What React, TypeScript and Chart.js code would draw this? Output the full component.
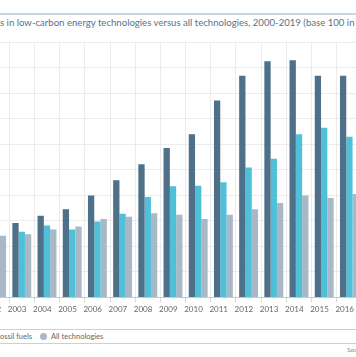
import React, { useEffect, useRef } from "react";
import { Chart, registerables } from "chart.js";

Chart.register(...registerables);

const years = ["2002", "2003", "2004", "2005", "2006", "2007", "2008", "2009", "2010", "2011", "2012", "2013", "2014", "2015", "2016"];
const lowCarbon = [null, 146, 160, 173, 200, 230, 261, 293, 320, 386, 435, 463, 465, 435, 435];
const fossilFuels = [null, 129, 141, 133, 149, 164, 197, 218, 219, 226, 255, 272, 320, 333, 315];
const allTech = [121, 124, 133, 139, 154, 158, 165, 162, 154, 162, 173, 185, 200, 195, 203];
const seriesNames = ["Low-carbon energy technologies", "Fossil fuels", "All technologies"];
const seriesColors = ["#4e7089", "#50c0d8", "#a8b8c6"];
const titleText = "Patents in low-carbon energy technologies versus all technologies, 2000-2019 (base 100 in 2000)";
const sourceText = "Source: EEA";

const FONT = "Lato, 'Open Sans', sans-serif";

export default function App() {
  const ref = useRef<HTMLCanvasElement | null>(null);

  useEffect(() => {
    if (!ref.current) return;
    const chart = new Chart(ref.current, {
      type: "bar",
      data: {
        labels: years,
        datasets: [
          { label: seriesNames[0], data: lowCarbon, backgroundColor: seriesColors[0] },
          { label: seriesNames[1], data: fossilFuels, backgroundColor: seriesColors[1] },
          { label: seriesNames[2], data: allTech, backgroundColor: seriesColors[2] },
        ],
      },
      options: {
        animation: false,
        responsive: false,
        maintainAspectRatio: false,
        layout: { padding: { top: 12.5, left: 0, right: 0, bottom: 0 } },
        datasets: { bar: { categoryPercentage: 0.75, barPercentage: 1, borderWidth: 0 } },
        plugins: { legend: { display: false }, title: { display: false }, tooltip: { enabled: false } },
        scales: {
          x: {
            grid: { color: "#ebebeb", lineWidth: 1, tickLength: 5, offset: true, tickColor: "#d8d8d8" },
            border: { color: "#c8c8c8", width: 1 },
            ticks: {
              color: "#666666",
              font: { family: FONT, size: 8 },
              padding: 2,
              autoSkip: false,
              maxRotation: 0,
              labelOffset: -4.7,
            },
          },
          y: {
            min: 0,
            max: 500,
            ticks: { display: false, stepSize: 50 },
            grid: { color: "#ebebeb", lineWidth: 1, drawTicks: false },
            border: { display: false },
          },
        },
      },
    });
    return () => chart.destroy();
  }, []);

  const legendItem = (i: number) => (
    <span key={i} style={{ display: "inline-flex", alignItems: "center", marginRight: 8 }}>
      <span style={{ width: 7, height: 7, borderRadius: "50%", background: seriesColors[i], display: "inline-block", marginRight: 4 }} />
      {seriesNames[i]}
    </span>
  );

  return (
    <div style={{ position: "fixed", left: 0, top: 0, width: 356, height: 357, overflow: "hidden", background: "#fff", fontFamily: FONT }}>
      <div style={{ position: "absolute", left: 0, top: 13, width: 356, height: 1.5, background: "#c9d6e0" }} />
      <div style={{ position: "absolute", left: 0, top: 16, whiteSpace: "nowrap", fontSize: 9.6, lineHeight: "14px", color: "#56738a" }}>
        <span style={{ position: "absolute", right: "100%", top: 0 }}>{titleText.slice(0, 6)}</span>
        {titleText.slice(6)}
      </div>
      <canvas ref={ref} width={378} height={286} style={{ position: "absolute", left: -16, top: 30, width: 378, height: 286 }} />
      <div style={{ position: "absolute", left: 0, top: 329, width: 356, height: 1, background: "#cfcfcf" }} />
      <div style={{ position: "absolute", left: 0, top: 343, width: 356, height: 1, background: "#cfcfcf" }} />
      <div style={{ position: "absolute", left: 0, top: 331, whiteSpace: "nowrap", fontSize: 7.5, lineHeight: "11px", color: "#666", display: "flex", alignItems: "center" }}>
        <span style={{ position: "absolute", right: "100%", top: 0, display: "inline-flex", alignItems: "center", whiteSpace: "nowrap" }}>
          {legendItem(0)}
          <span style={{ display: "inline-flex", alignItems: "center" }}>
            <span style={{ width: 7, height: 7, borderRadius: "50%", background: seriesColors[1], display: "inline-block", marginRight: 4 }} />
            {seriesNames[1].slice(0, 1)}
          </span>
        </span>
        <span style={{ marginRight: 8 }}>{seriesNames[1].slice(1)}</span>
        {legendItem(2)}
      </div>
      <div style={{ position: "absolute", left: 347, top: 346, whiteSpace: "nowrap", fontSize: 6.5, color: "#888" }}>{sourceText}</div>
    </div>
  );
}
